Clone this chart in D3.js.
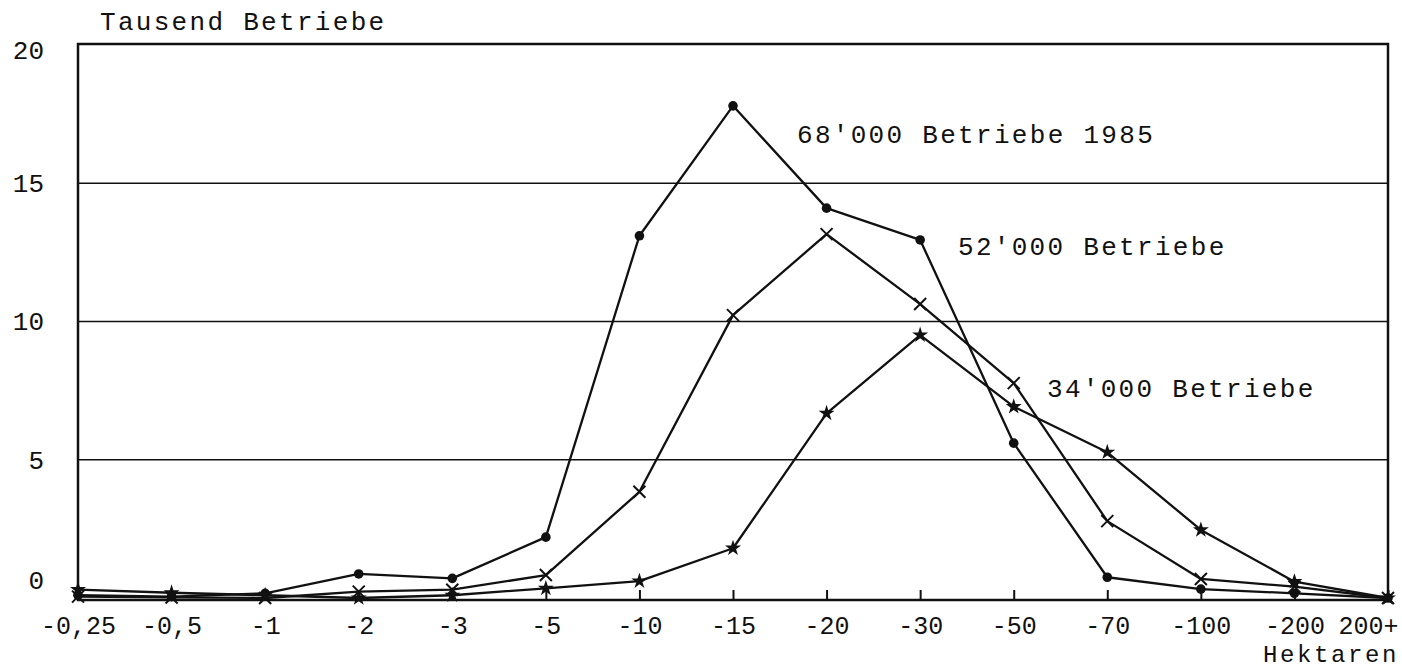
<!DOCTYPE html>
<html>
<head>
<meta charset="utf-8">
<script src="https://cdn.jsdelivr.net/npm/d3@7"></script>
<style>
  html, body { margin: 0; padding: 0; background: #fff; }
  svg { display: block; }
  text { font-family: "Liberation Mono", "DejaVu Sans Mono", monospace; fill: #111; }
</style>
</head>
<body>
<svg id="chart" width="1402" height="668"></svg>
<script>
// ---- data ----
const categories = ["-0,25", "-0,5", "-1", "-2", "-3", "-5", "-10", "-15", "-20", "-30", "-50", "-70", "-100", "-200", "200+"];
const betriebe1985 = [0.1, 0.05, 0.17, 0.87, 0.71, 2.2, 13.1, 17.8, 14.1, 12.95, 5.6, 0.75, 0.32, 0.17, 0];
const betriebe52k  = [0.05, 0.02, 0.0, 0.23, 0.3, 0.83, 3.84, 10.23, 13.16, 10.63, 7.77, 2.78, 0.69, 0.41, 0];
const betriebe34k  = [0.3, 0.19, 0.1, 0.0, 0.1, 0.35, 0.61, 1.8, 6.68, 9.51, 6.92, 5.27, 2.46, 0.59, 0];
const yTicks = [0, 5, 10, 15, 20];
const gridValues = [5, 10, 15];
const seriesLabels = ["68'000 Betriebe 1985", "52'000 Betriebe", "34'000 Betriebe"];
const yTitle = "Tausend Betriebe";
const xTitle = "Hektaren";

const series = [
  { name: seriesLabels[0], values: betriebe1985, marker: "dot" },
  { name: seriesLabels[1], values: betriebe52k, marker: "cross" },
  { name: seriesLabels[2], values: betriebe34k, marker: "star" }
];

// ---- layout ----
const svg = d3.select("#chart");
const mLeft = 78, mRight = 1388, mTop = 45, mBottom = 598;

const x = d3.scalePoint().domain(categories).range([mLeft, mRight]);
const y = d3.scaleLinear().domain([0, 20]).range([mBottom, mTop]);

// gridlines
svg.append("g").selectAll("line").data(gridValues).join("line")
  .attr("x1", mLeft).attr("x2", mRight)
  .attr("y1", d => y(d)).attr("y2", d => y(d))
  .attr("stroke", "#111").attr("stroke-width", 1.5);

// frame
svg.append("rect")
  .attr("x", mLeft).attr("y", y(20) - 1)
  .attr("width", mRight - mLeft).attr("height", y(0) + 2 - (y(20) - 1))
  .attr("fill", "none").attr("stroke", "#111").attr("stroke-width", 2.5);

// x axis
const lastCat = categories[categories.length - 1];
const xAxis = svg.append("g")
  .attr("transform", `translate(0,${y(0) + 2})`)
  .call(d3.axisBottom(x).tickSizeInner(-10).tickSizeOuter(0).tickPadding(16));
xAxis.select(".domain").remove();
xAxis.selectAll(".tick line").attr("stroke", "#111").attr("stroke-width", 2);
xAxis.selectAll(".tick text")
  .attr("font-size", 25).attr("font-family", "Liberation Mono").attr("fill", "#111")
  .attr("text-anchor", d => d === lastCat ? "end" : "middle")
  .attr("x", d => d === lastCat ? 10 : 0);

// y axis labels
const yAxis = svg.append("g")
  .attr("transform", `translate(${mLeft},0)`)
  .call(d3.axisLeft(y).tickValues(yTicks).tickSize(0).tickPadding(34));
yAxis.select(".domain").remove();
yAxis.selectAll(".tick text")
  .attr("font-size", 26).attr("font-family", "Liberation Mono").attr("fill", "#111")
  .attr("dy", d => d === 0 ? "-0.35em" : (d === 20 ? "0.5em" : "0.32em"));

// lines
const line = d3.line().x((d, i) => x(categories[i])).y(d => y(d));
series.forEach(s => {
  svg.append("path").datum(s.values)
    .attr("d", line).attr("fill", "none")
    .attr("stroke", "#111").attr("stroke-width", 2.3).attr("stroke-linejoin", "round");
});

// markers
series.forEach(s => {
  const g = svg.append("g");
  const pts = g.selectAll("g").data(s.values).join("g")
    .attr("transform", (d, i) => `translate(${x(categories[i])},${y(d)})`);
  if (s.marker === "dot") {
    pts.append("circle").attr("r", 4.8).attr("fill", "#111");
  } else if (s.marker === "cross") {
    pts.append("path").attr("d", "M-6,-6L6,6M-6,6L6,-6")
      .attr("stroke", "#111").attr("stroke-width", 2).attr("fill", "none");
  } else {
    pts.append("path").attr("d", d3.symbol(d3.symbolStar, 80)())
      .attr("fill", "#111");
  }
});

// series labels
const labelPos = [[797, 143], [958, 255], [1047, 397]];
svg.append("g").selectAll("text").data(seriesLabels).join("text")
  .attr("x", (d, i) => labelPos[i][0]).attr("y", (d, i) => labelPos[i][1])
  .attr("font-size", 26).attr("letter-spacing", 2.3)
  .text(d => d);

// titles
svg.append("text").attr("x", 100).attr("y", 30)
  .attr("font-size", 26).attr("letter-spacing", 2.3).text(yTitle);
svg.append("text").attr("x", 1399).attr("y", 662).attr("text-anchor", "end")
  .attr("font-size", 24).attr("letter-spacing", 2.6).text(xTitle);
</script>
</body>
</html>
